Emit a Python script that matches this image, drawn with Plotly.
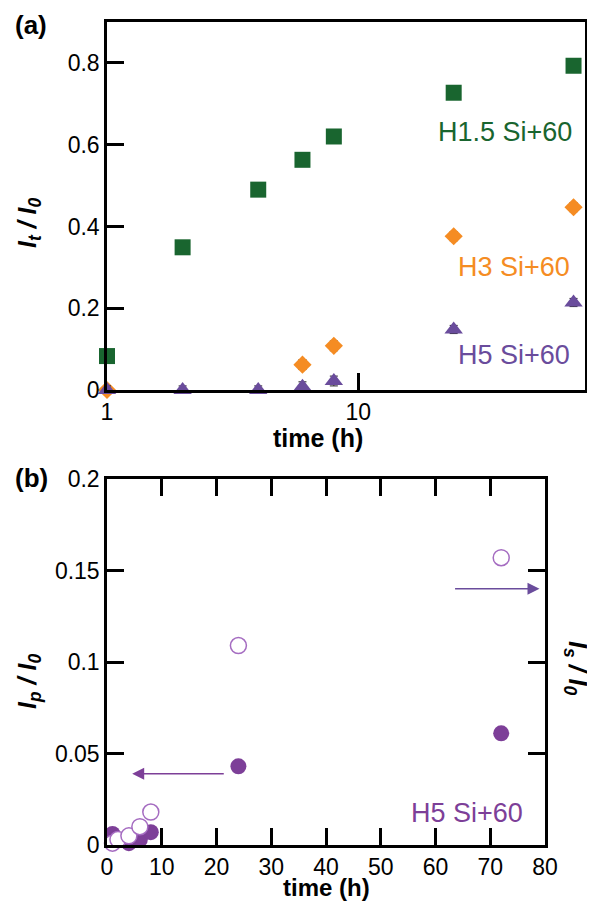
import plotly.graph_objects as go

# panel (a) data
time_a = [1, 2, 4, 6, 8, 24, 72]
h15 = [0.083, 0.349, 0.49, 0.563, 0.62, 0.727, 0.793]
time_h3 = [1, 6, 8, 24, 72]
h3 = [0.0, 0.062, 0.108, 0.376, 0.447]
h3_err = [0.01, 0.012, 0.012, 0.011, 0.011]
h5 = [0.0, 0.0, 0.0, 0.008, 0.022, 0.148, 0.214]
h5_err = [0.01, 0.01, 0.01, 0.012, 0.012, 0.01, 0.01]

# panel (b) data
time_b = [1, 2, 4, 6, 8, 24, 72]
ip = [0.006, 0.003, 0.001, 0.003, 0.007, 0.043, 0.061]
is_ = [0.001, 0.003, 0.005, 0.010, 0.018, 0.109, 0.157]

GREEN = '#19652f'
ORANGE = '#f58c23'
PURPLE = '#6a4c9c'
PURPLE_B = '#7d3f98'
PURPLE_OPEN = '#a56cc1'
FONT = 'Liberation Sans, Arial, sans-serif'

fig = go.Figure()

fig.add_trace(go.Scatter(x=time_a, y=h15, mode='markers', cliponaxis=False,
                         marker=dict(symbol='square', size=16, color=GREEN),
                         xaxis='x', yaxis='y'))
fig.add_trace(go.Scatter(x=time_h3, y=h3, mode='markers', cliponaxis=False,
                         error_y=dict(type='data', array=h3_err, color='#222', thickness=1, width=4),
                         marker=dict(symbol='diamond', size=14, color=ORANGE),
                         xaxis='x', yaxis='y'))
fig.add_trace(go.Scatter(x=time_a, y=h5, mode='markers', cliponaxis=False,
                         error_y=dict(type='data', array=h5_err, color='#222', thickness=1, width=4),
                         marker=dict(symbol='triangle-up', size=16, color=PURPLE),
                         xaxis='x', yaxis='y'))

fig.add_trace(go.Scatter(x=time_b, y=ip, mode='markers', cliponaxis=False,
                         marker=dict(symbol='circle', size=16, color=PURPLE_B),
                         xaxis='x2', yaxis='y2'))
fig.add_trace(go.Scatter(x=time_b, y=is_, mode='markers', cliponaxis=False,
                         marker=dict(symbol='circle', size=16, color='white',
                                     line=dict(color=PURPLE_OPEN, width=1.5)),
                         xaxis='x2', yaxis='y2'))

# the page body has an 8px margin, so the figure is drawn 8px in from the corner
OFF = 8
W, H = 595 - OFF, 903 - OFF
def px_x(p):
    return (p - OFF) / W
def px_y(p):
    return 1 - (p - OFF) / H

axis_common = dict(showline=True, linecolor='black', linewidth=2.5, ticks='inside',
                   ticklen=17, tickwidth=2.5, tickcolor='black', showgrid=False,
                   zeroline=False, automargin=False,
                   tickfont=dict(family=FONT, size=23, color='black'))

fig.update_layout(
    width=W, height=H, margin=dict(l=0, r=0, t=0, b=0),
    plot_bgcolor='white', paper_bgcolor='white', showlegend=False,
    font=dict(family=FONT, color='black'),
    xaxis=dict(type='log', range=[0, 1.903], domain=[px_x(107), px_x(585)],
               tickvals=[1, 10], ticktext=['1', '10'], mirror=True,
               anchor='y', **axis_common),
    yaxis=dict(range=[0, 0.9], domain=[px_y(390), px_y(22)],
               tickvals=[0, 0.2, 0.4, 0.6, 0.8], ticktext=['0', '0.2', '0.4', '0.6', '0.8'],
               mirror=True, anchor='x', **axis_common),
    xaxis2=dict(range=[0, 80], domain=[px_x(107), px_x(545)],
                tickvals=[0, 10, 20, 30, 40, 50, 60, 70, 80], mirror='ticks',
                anchor='y2', **axis_common),
    yaxis2=dict(range=[0, 0.2], domain=[px_y(845), px_y(479)],
                tickvals=[0, 0.05, 0.1, 0.15, 0.2], ticktext=['0', '0.05', '0.1', '0.15', '0.2'],
                mirror='ticks', anchor='x2', **axis_common),
)

title_font = dict(family=FONT, size=25, color='black')
panel_font = dict(family=FONT, size=26, color='black')
annos = [
    dict(text='<b>(a)</b>', x=px_x(13), y=px_y(25), xanchor='left', yanchor='middle', font=panel_font),
    dict(text='<b>(b)</b>', x=px_x(13), y=px_y(478), xanchor='left', yanchor='middle', font=panel_font),
    dict(text='<b><i>I<sub>t</sub> / I<sub>0</sub></i></b>', x=px_x(29), y=px_y(223), textangle=-90,
         xanchor='center', yanchor='middle', font=title_font),
    dict(text='<b>time (h)</b>', x=px_x(318), y=px_y(438), xanchor='center', yanchor='middle', font=title_font),
    dict(text='<b><i>I<sub>p</sub> / I<sub>0</sub></i></b>', x=px_x(29), y=px_y(682), textangle=-90,
         xanchor='center', yanchor='middle', font=title_font),
    dict(text='<b><i>I<sub>s</sub> / I<sub>0</sub></i></b>', x=px_x(576), y=px_y(668), textangle=90,
         xanchor='center', yanchor='middle', font=title_font),
    dict(text='<b>time (h)</b>', x=px_x(326), y=0, xanchor='center', yanchor='bottom',
         font=dict(family=FONT, size=24, color='black')),
    dict(text='H1.5 Si+60', x=px_x(505), y=px_y(132), xanchor='center', yanchor='middle',
         font=dict(family=FONT, size=27, color=GREEN)),
    dict(text='H3 Si+60', x=px_x(514), y=px_y(267), xanchor='center', yanchor='middle',
         font=dict(family=FONT, size=27, color=ORANGE)),
    dict(text='H5 Si+60', x=px_x(514), y=px_y(355), xanchor='center', yanchor='middle',
         font=dict(family=FONT, size=27, color=PURPLE)),
    dict(text='H5 Si+60', x=px_x(467), y=px_y(813), xanchor='center', yanchor='middle',
         font=dict(family=FONT, size=27, color=PURPLE_B)),
]
for a in annos:
    fig.add_annotation(xref='paper', yref='paper', showarrow=False, **a)

# arrows pointing to the relevant axis
fig.add_annotation(xref='x2', yref='y2', axref='x2', ayref='y2', x=4.6, y=0.039, ax=21.6, ay=0.039,
                   text='', showarrow=True, arrowhead=2, arrowsize=1.6, arrowwidth=1.5, arrowcolor=PURPLE_B)
fig.add_annotation(xref='x2', yref='y2', axref='x2', ayref='y2', x=79, y=0.14, ax=63.3, ay=0.14,
                   text='', showarrow=True, arrowhead=2, arrowsize=1.6, arrowwidth=1.5, arrowcolor=PURPLE)

fig.write_html("out.html")
